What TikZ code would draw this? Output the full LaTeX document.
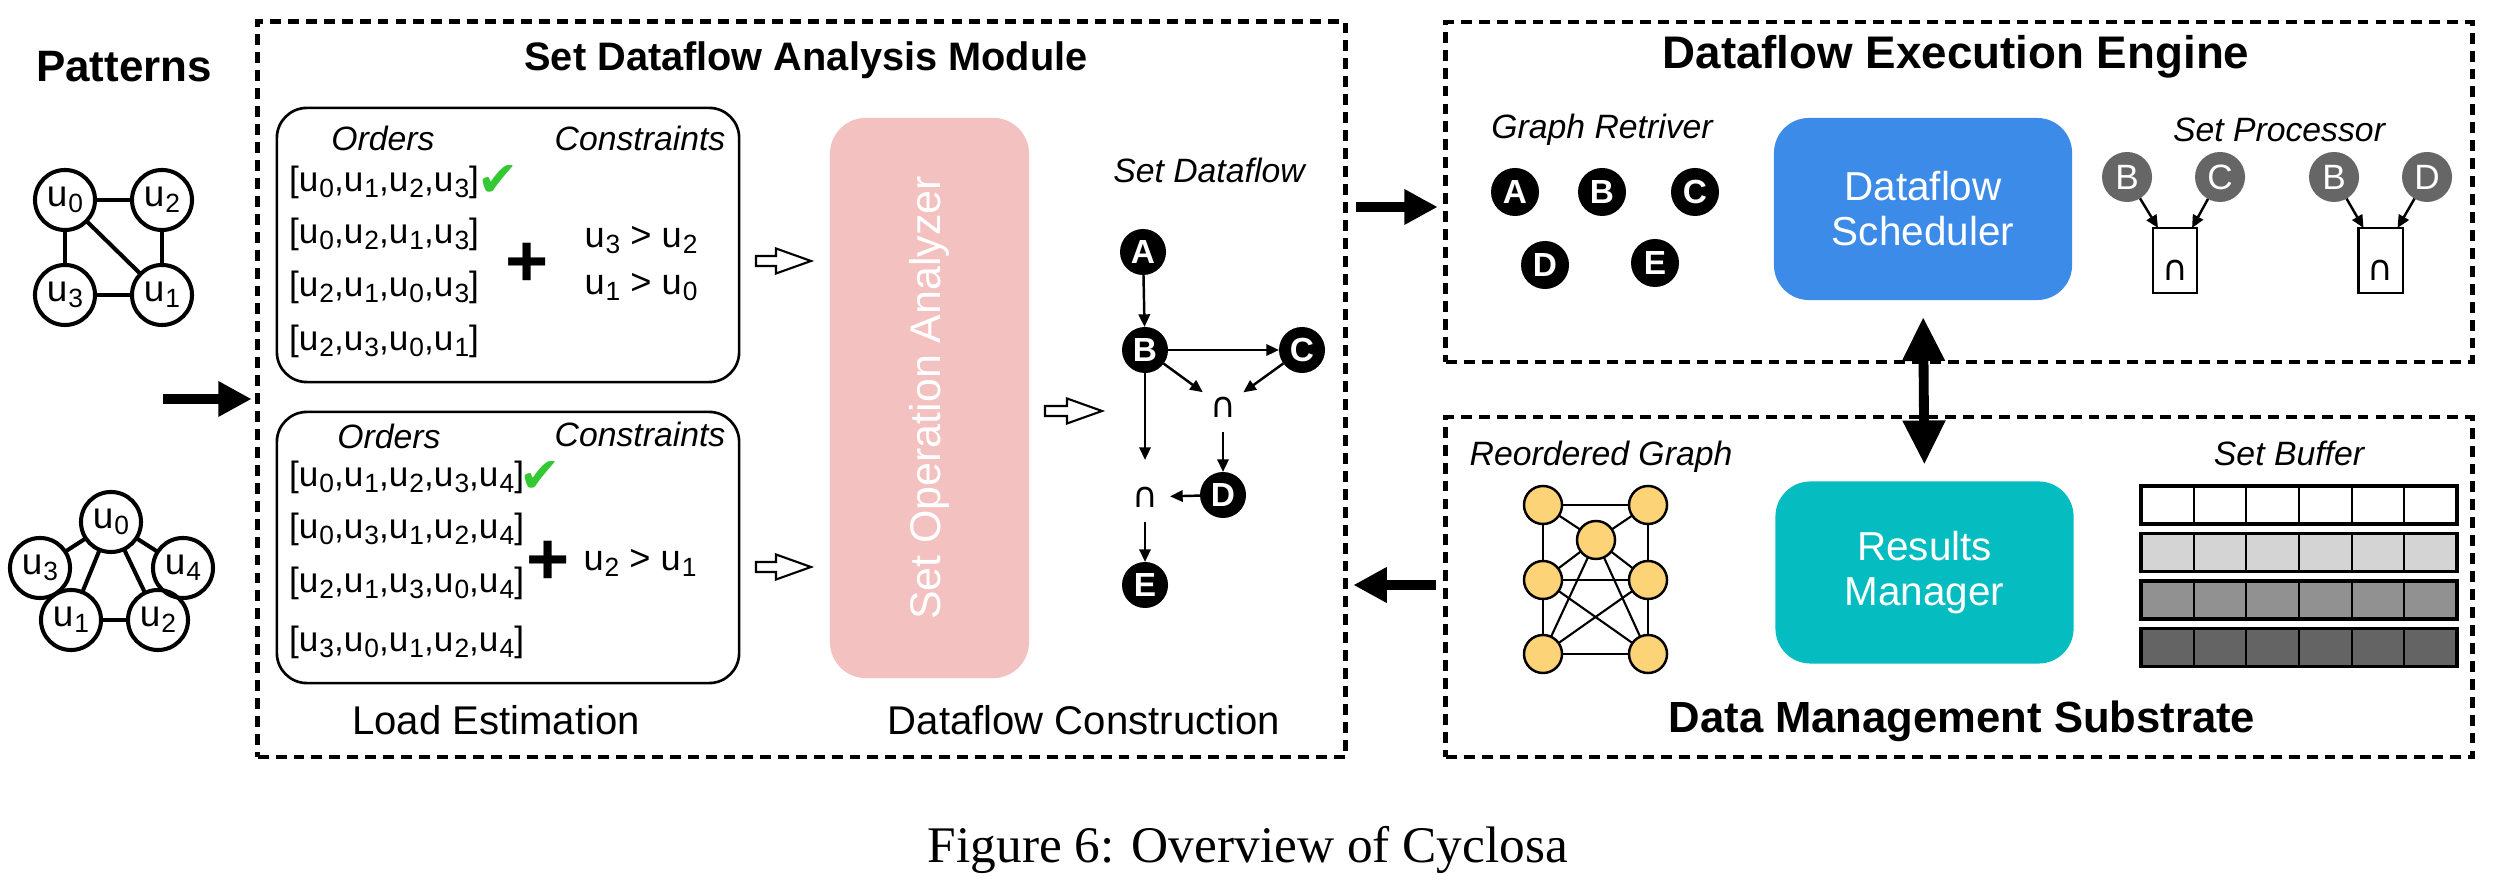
\documentclass[tikz,border=0pt]{standalone}
\usepackage{fontspec}
\setmainfont{Liberation Sans}
\newfontfamily\seriffont{Liberation Serif}
\newfontfamily\symfont{DejaVu Sans}
\usetikzlibrary{arrows.meta,calc}
\definecolor{pinkbox}{RGB}{244,193,193}
\definecolor{bluebox}{RGB}{61,139,233}
\definecolor{tealbox}{RGB}{5,189,192}
\definecolor{checkgreen}{RGB}{52,200,52}
\definecolor{nodeyellow}{RGB}{253,211,120}
\definecolor{greynode}{RGB}{102,102,102}
\definecolor{bufb}{RGB}{212,212,212}
\definecolor{bufc}{RGB}{145,145,145}
\definecolor{bufd}{RGB}{100,100,100}
\newcommand\fsz[2]{\fontsize{#1pt}{#2pt}\selectfont}
\newcommand\uu[1]{u\kern0.3pt\raisebox{-0.3ex}{\fontsize{7.5pt}{8pt}\selectfont #1}}
\newcommand\capsym{{\symfont ∩}}
\tikzset{
  dbox/.style={draw, line width=1.3pt, dash pattern=on 3.1pt off 2pt},
  rbox/.style={draw, line width=0.75pt, rounded corners=0.3cm},
  title/.style={font=\bfseries\fsz{12.4}{14}},
  subtitle/.style={font=\fsz{11.4}{13}},
  itlabel/.style={font=\itshape\fsz{9.6}{11}},
  ordtext/.style={font=\fsz{10}{12}, anchor=west, text height=7pt, text depth=2pt},
  cstext/.style={font=\fsz{10.3}{12}},
  plusmark/.style={font=\bfseries\fsz{21}{22}},
  checkmark/.style={font=\symfont\fsz{14}{15}, text=checkgreen},
  pnode/.style={circle, draw, line width=1.15pt, minimum size=0.6cm, font=\fsz{10.5}{12}},
  pedge/.style={line width=1.15pt},
  bigarrow/.style={line width=2.8pt, -{Triangle[length=9.5pt,width=9.5pt]}},
  dblarrow/.style={line width=2.8pt, {Triangle[length=12.5pt,width=11.5pt]}-{Triangle[length=12.5pt,width=11.5pt]}},
  hollow/.style={draw, line width=0.6pt, fill=white, line join=miter},
  dfnode/.style={circle, fill=black, text=white, font=\bfseries\fsz{9.5}{11}, minimum size=0.46cm},
  capnode/.style={circle, minimum size=0.5cm, font=\fsz{10}{12}},
  dfarrow/.style={line width=0.7pt, -{Triangle[length=3.6pt,width=3.2pt]}},
  rnode/.style={circle, fill=black, text=white, font=\bfseries\fsz{9.5}{11}, minimum size=0.48cm},
  gnode/.style={circle, fill=greynode, text=white, font=\fsz{10}{11}, minimum size=0.5cm},
  procbox/.style={draw, line width=0.6pt, minimum width=0.44cm, minimum height=0.65cm},
  ynode/.style={circle, draw, fill=nodeyellow, line width=0.7pt, minimum size=0.38cm},
  yedge/.style={line width=0.6pt},
  bigbox/.style={rounded corners=0.35cm, minimum width=2.98cm, minimum height=1.82cm, text=white, font=\fsz{11.5}{12.8}, align=center}
}
\newcommand\hollowarrow[2]{% #1 = named coordinate (left end), #2 = shaft length
  \draw[hollow] (#1) ++(0,-5) -- ++(#2,0) -- ++(0,-7.5) -- ++(35,12.5) -- ++(-35,12.5) -- ++(0,-7.5) -- ++(-#2,0) -- cycle;}
\begin{document}
\begin{tikzpicture}[x=0.01cm,y=-0.01cm, every node/.style={inner sep=0pt, outer sep=0pt}]
\useasboundingbox (0,0) rectangle (2501,889);

% ---------- Patterns ----------
\node[title, font=\bfseries\fsz{12.5}{14}] (pat) at (124,67) {Patterns};
\node[pnode] (au0) at (65,200) {\uu0};
\node[pnode] (au2) at (162,200) {\uu2};
\node[pnode] (au3) at (65,295) {\uu3};
\node[pnode] (au1) at (162,295) {\uu1};
\draw[pedge] (au0) -- (au2);
\draw[pedge] (au0) -- (au3);
\draw[pedge] (au0) -- (au1);
\draw[pedge] (au2) -- (au1);
\draw[pedge] (au3) -- (au1);

\node[pnode] (bu0) at (111,522) {\uu0};
\node[pnode] (bu3) at (40,568) {\uu3};
\node[pnode] (bu4) at (183,568) {\uu4};
\node[pnode] (bu1) at (71,620) {\uu1};
\node[pnode] (bu2) at (158,620) {\uu2};
\draw[pedge] (bu0) -- (bu3);
\draw[pedge] (bu0) -- (bu1);
\draw[pedge] (bu0) -- (bu2);
\draw[pedge] (bu0) -- (bu4);
\draw[pedge] (bu3) -- (bu1);
\draw[pedge] (bu4) -- (bu2);
\draw[pedge] (bu1) -- (bu2);

% ---------- Module box ----------
\node[dbox, minimum width=10.87cm, minimum height=7.35cm] (modbox) at (801.5,389.5) {};
\node[title, font=\bfseries\fsz{11.3}{13}] (modtitle) at (806,60) {Set Dataflow Analysis Module};

\coordinate (pa) at (163,399);
\draw[bigarrow] (pa) -- ([xshift=-0.06cm]pa -| modbox.west);

% top load box
\node[rbox, minimum width=4.62cm, minimum height=2.74cm] (lbox1) at (508,245) {};
\node[itlabel] (ord1) at (383,138) {Orders};
\node[itlabel] (con1) at (640,138) {Constraints};
\node[ordtext] (r11) at (289,183) {[\uu0,\uu1,\uu2,\uu3]};
\node[ordtext] (r12) at (289,235) {[\uu0,\uu2,\uu1,\uu3]};
\node[ordtext] (r13) at (289,288) {[\uu2,\uu1,\uu0,\uu3]};
\node[ordtext] (r14) at (289,342) {[\uu2,\uu3,\uu0,\uu1]};
\node[checkmark] (chk1) at (498,181) {✔};
\node[plusmark] (plus1) at (527,265) {+};
\node[cstext] (c11) at (641,240) {\uu3 > \uu2};
\node[cstext] (c12) at (641,287) {\uu1 > \uu0};

% bottom load box
\node[rbox, minimum width=4.62cm, minimum height=2.71cm] (lbox2) at (508,547.5) {};
\node[itlabel] (ord2) at (389,436) {Orders};
\node[itlabel] (con2) at (640,434) {Constraints};
\node[ordtext] (r21) at (289,478) {[\uu0,\uu1,\uu2,\uu3,\uu4]};
\node[ordtext] (r22) at (289,530) {[\uu0,\uu3,\uu1,\uu2,\uu4]};
\node[ordtext] (r23) at (289,584) {[\uu2,\uu1,\uu3,\uu0,\uu4]};
\node[ordtext] (r24) at (289,643) {[\uu3,\uu0,\uu1,\uu2,\uu4]};
\node[checkmark] (chk2) at (540,477) {✔};
\node[plusmark] (plus2) at (548,563) {+};
\node[cstext] (c21) at (640,563) {\uu2 > \uu1};

\node[subtitle] (loadest) at (496,720) {Load Estimation};

% hollow arrows
\coordinate (ha1) at (756,261);
\coordinate (ha2) at (756,567);
\coordinate (ha3) at (1045,411);
\hollowarrow{ha1}{20}
\hollowarrow{ha2}{20}
\hollowarrow{ha3}{22}

% pink analyzer
\node[fill=pinkbox, rounded corners=0.36cm, minimum width=1.99cm, minimum height=5.6cm] (soa) at (929.5,398) {};
\node[rotate=90, text=white, font=\fsz{12.2}{13}] (soatext) at (soa) {Set Operation Analyzer};

% set dataflow
\node[itlabel] (sdf) at (1209,170) {Set Dataflow};
\node[dfnode] (dA) at (1143,252) {A};
\node[dfnode] (dB) at (1145,350) {B};
\node[dfnode] (dC) at (1302,350) {C};
\node[capnode] (cap1) at (1223,407) {\capsym};
\node[dfnode] (dD) at (1223,495) {D};
\node[capnode] (cap2) at (1145,497) {\capsym};
\node[dfnode] (dE) at (1145,585) {E};
\draw[dfarrow] (dA) -- (dB);
\draw[dfarrow] (dB) -- (dC);
\draw[dfarrow] (dB) -- (cap1);
\draw[dfarrow] (dC) -- (cap1);
\draw[dfarrow] (cap1) -- (dD);
\draw[dfarrow, shorten >=0.12cm] (dB) -- (cap2);
\draw[dfarrow] (dD) -- (cap2);
\draw[dfarrow] (cap2) -- (dE);

\node[subtitle] (dfc) at (1084,720) {Dataflow Construction};

% ---------- Engine box ----------
\node[dbox, minimum width=10.26cm, minimum height=3.40cm] (engbox) at (1959,192) {};
\node[title, font=\bfseries\fsz{13}{15}] (engtitle) at (1956,57) {Dataflow Execution Engine};
\node[itlabel] (grl) at (1602,130) {Graph Retriver};
\node[rnode] (gA) at (1515,192) {A};
\node[rnode] (gB) at (1602,192) {B};
\node[rnode] (gC) at (1695,192) {C};
\node[rnode] (gD) at (1545,265) {D};
\node[rnode] (gE) at (1655,263) {E};
\node[bigbox, fill=bluebox] (sched) at (1923,209) {Dataflow\\Scheduler};
\node[itlabel] (spl) at (2279,130) {Set Processor};
\node[gnode] (sB1) at (2127,177) {B};
\node[gnode] (sC1) at (2220,177) {C};
\node[gnode] (sB2) at (2334,177) {B};
\node[gnode] (sD2) at (2427,177) {D};
\node[procbox] (sp1) at (2175,260.5) {};
\node[procbox] (sp2) at (2380.5,260.5) {};
\node[capnode, minimum size=0pt] (spc1) at (2175,270) {\capsym};
\node[capnode, minimum size=0pt] (spc2) at (2380.5,270) {\capsym};
\draw[dfarrow] (sB1) -- ([xshift=0.05cm]sp1.north west);
\draw[dfarrow] (sC1) -- ([xshift=-0.05cm]sp1.north east);
\draw[dfarrow] (sB2) -- ([xshift=0.05cm]sp2.north west);
\draw[dfarrow] (sD2) -- ([xshift=-0.05cm]sp2.north east);

% ---------- Data management box ----------
\node[dbox, minimum width=10.26cm, minimum height=3.40cm] (dmsbox) at (1959,587) {};
\node[title] (dmstitle) at (1962,721) {Data Management Substrate};
\node[itlabel] (rgl) at (1601,457) {Reordered Graph};
\node[ynode] (yTL) at (1543,505) {};
\node[ynode] (yTR) at (1648,505) {};
\node[ynode] (yC) at (1596,540) {};
\node[ynode] (yML) at (1543,580) {};
\node[ynode] (yMR) at (1648,580) {};
\node[ynode] (yBL) at (1543,654) {};
\node[ynode] (yBR) at (1648,654) {};
\foreach \a/\b in {yTL/yTR,yTL/yC,yTR/yC,yTL/yML,yTR/yMR,yC/yML,yC/yMR,yML/yMR,yC/yBL,yC/yBR,yML/yBL,yMR/yBR,yML/yBR,yMR/yBL,yBL/yBR}
  \draw[yedge] (\a) -- (\b);
\node[bigbox, fill=tealbox] (resm) at (1924.5,572.5) {Results\\Manager};
\node[itlabel] (sbl) at (2289,453) {Set Buffer};
\foreach \r/\c in {0/white,1/bufb,2/bufc,3/bufd} {
  \pgfmathsetmacro\yt{486+47.5*\r}
  \fill[\c] (2141,\yt) rectangle (2457,\yt+38);
  \foreach \k in {1,...,5} \draw[line width=0.55pt] (2141+52.67*\k,\yt) -- (2141+52.67*\k,\yt+38);
  \draw[line width=1pt] (2141,\yt) rectangle (2457,\yt+38);
}

% ---------- big connectors ----------
\coordinate (e1) at (1356,207);
\draw[bigarrow] ([xshift=0.11cm]modbox.east |- e1) -- ([xshift=-0.08cm]engbox.west |- e1);
\coordinate (r1) at (1436,585);
\draw[bigarrow] ([xshift=-0.1cm]dmsbox.west |- r1) -- ([xshift=0.08cm]modbox.east |- r1);
\draw[dblarrow, shorten <=0.17cm, shorten >=0.17cm] (sched.south) -- (resm.north);

% caption
\node[font=\seriffont\fsz{14.6}{16}] (caption) at (1248,850) {Figure 6: Overview of Cyclosa};
\end{tikzpicture}
\end{document}
